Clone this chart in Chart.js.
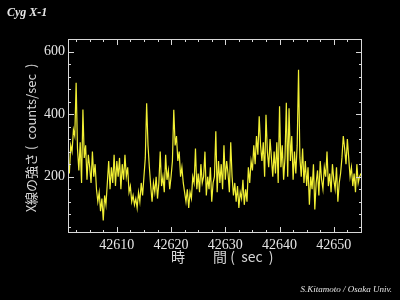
<!DOCTYPE html>
<html>
<head>
<meta charset="utf-8">
<script src="https://cdn.jsdelivr.net/npm/chart.js@4/dist/chart.umd.min.js"></script>
<style>
  html, body { margin: 0; background: #000; }
  canvas { display: block; }
</style>
</head>
<body>
<canvas id="chart" width="400" height="300"></canvas>
<script>
// Cyg X-1 light curve, one sample every 0.25 sec starting at 42601 sec
const startTime = 42601;
const binSize = 0.25;
const counts = [
  250, 210, 300, 280,   // 42601
  350, 330, 500, 290,   // 42602
  220, 310, 180, 415,   // 42603
  260, 300, 190, 270,   // 42604
  230, 180, 280, 200,   // 42605
  240, 160, 120, 150,   // 42606
  90, 130, 60, 140,     // 42607
  110, 180, 250, 160,   // 42608
  230, 180, 270, 170,   // 42609
  250, 200, 260, 160,   // 42610
  240, 190, 270, 200,   // 42611
  230, 150, 170, 120,   // 42612
  140, 110, 130, 100,   // 42613
  150, 120, 180, 140,   // 42614
  200, 260, 435, 300,   // 42615
  230, 170, 120, 180,   // 42616
  150, 200, 130, 180,   // 42617
  280, 170, 200, 150,   // 42618
  270, 190, 220, 160,   // 42619
  200, 250, 414, 300,   // 42620
  330, 250, 280, 200,   // 42621
  230, 180, 150, 120,   // 42622
  160, 100, 150, 130,   // 42623
  200, 180, 290, 160,   // 42624
  210, 150, 240, 180,   // 42625
  200, 280, 140, 200,   // 42626
  160, 230, 120, 180,   // 42627
  200, 345, 150, 250,   // 42628
  180, 240, 160, 300,   // 42629
  190, 250, 210, 150,   // 42630
  310, 200, 140, 180,   // 42631
  120, 170, 100, 150,   // 42632
  130, 190, 110, 160,   // 42633
  120, 230, 180, 250,   // 42634
  220, 300, 240, 330,   // 42635
  270, 393, 300, 250,   // 42636
  310, 200, 398, 280,   // 42637
  230, 320, 260, 200,   // 42638
  280, 210, 310, 180,   // 42639
  425, 230, 300, 190,   // 42640
  260, 436, 200, 419,   // 42641
  250, 330, 190, 280,   // 42642
  210, 300, 542, 260,   // 42643
  200, 290, 180, 250,   // 42644
  170, 230, 110, 200,   // 42645
  160, 240, 95, 180,    // 42646
  220, 140, 250, 190,   // 42647
  160, 230, 200, 280,   // 42648
  170, 210, 150, 240,   // 42649
  190, 160, 230, 120,   // 42650
  180, 210, 260, 330,   // 42651
  290, 240, 320, 260,   // 42652
  200, 230, 170, 210,   // 42653
  150, 240, 180, 200,   // 42654
  210                   // 42655
];

// tick labels
const xTickValues = [42610, 42620, 42630, 42640, 42650];
const yTickValues = [200, 400, 600];

// axis settings
const xMin = 42601, xMax = 42655.2;
const yMin = 20, yMax = 640;
const xMajor = 10, xMinor = 2.5;
const yMajor = 200, yMinor = 40;

const points = counts.map((c, i) => ({ x: startTime + i * binSize, y: c }));

const textColor = '#e6e6e6';
const frameColor = '#d8d8d8';

// frame with inward ticks on all four sides
const framePlugin = {
  id: 'frame',
  afterDatasetsDraw(chart) {
    const ctx = chart.ctx;
    const a = chart.chartArea;
    const xs = chart.scales.x, ys = chart.scales.y;
    ctx.save();
    ctx.strokeStyle = frameColor;
    ctx.lineWidth = 1;
    ctx.strokeRect(a.left + 0.5, a.top + 0.5, a.right - a.left - 1, a.bottom - a.top - 1);
    ctx.beginPath();
    for (let v = Math.ceil(xMin / xMinor) * xMinor; v <= xMax; v += xMinor) {
      const px = Math.round(xs.getPixelForValue(v)) + 0.5;
      const len = (v % xMajor === 0) ? 6 : 3;
      ctx.moveTo(px, a.bottom); ctx.lineTo(px, a.bottom - len);
      ctx.moveTo(px, a.top); ctx.lineTo(px, a.top + len);
    }
    for (let v = Math.ceil(yMin / yMinor) * yMinor; v <= yMax; v += yMinor) {
      const py = Math.round(ys.getPixelForValue(v)) + 0.5;
      const len = (v % yMajor === 0) ? 6 : 3;
      ctx.moveTo(a.left, py); ctx.lineTo(a.left + len, py);
      ctx.moveTo(a.right, py); ctx.lineTo(a.right - len, py);
    }
    ctx.stroke();
    ctx.restore();
  }
};

// titles and credit
const labelPlugin = {
  id: 'labels',
  afterDraw(chart) {
    const ctx = chart.ctx;
    ctx.save();
    ctx.fillStyle = textColor;
    ctx.textBaseline = 'alphabetic';

    ctx.font = 'italic bold 12px "Liberation Serif"';
    ctx.textAlign = 'left';
    ctx.fillText('Cyg X-1', 7, 16);

    ctx.fillStyle = '#d8d8d8';
    ctx.font = '14px "Noto Sans CJK JP"';
    ctx.textAlign = 'left';
    ctx.textBaseline = 'middle';
    ctx.fillText('時　　間 (  sec  )', 171, 257);

    ctx.save();
    ctx.translate(31, 138);
    ctx.rotate(-Math.PI / 2);
    ctx.textAlign = 'center';
    ctx.font = '13px "Noto Sans CJK JP"';
    ctx.fillText('X線の強さ (  counts/sec  )', 0, 0);
    ctx.restore();

    ctx.fillStyle = textColor;
    ctx.font = 'italic 9px "Liberation Serif"';
    ctx.textAlign = 'right';
    ctx.textBaseline = 'alphabetic';
    ctx.fillText('S.Kitamoto / Osaka Univ.', 392, 292);
    ctx.restore();
  }
};

const ctx = document.getElementById('chart').getContext('2d');
new Chart(ctx, {
  type: 'line',
  data: {
    datasets: [{
      data: points,
      borderColor: '#f2f034',
      borderWidth: 1.2,
      pointRadius: 0,
      tension: 0,
      fill: false
    }]
  },
  options: {
    responsive: false,
    animation: false,
    devicePixelRatio: 1,
    layout: { padding: { left: 0, top: 39, right: 38, bottom: 0 } },
    plugins: { legend: { display: false }, tooltip: { enabled: false } },
    scales: {
      x: {
        type: 'linear',
        min: xMin,
        max: xMax,
        grid: { display: false, drawTicks: false },
        border: { display: false },
        afterBuildTicks: s => { s.ticks = xTickValues.map(v => ({ value: v })); },
        afterFit: s => { s.height = 67; },
        ticks: {
          autoSkip: false,
          padding: 4,
          maxRotation: 0,
          color: textColor,
          font: { family: 'Liberation Serif', size: 14 },
          callback: v => String(v)
        }
      },
      y: {
        min: yMin,
        max: yMax,
        grid: { display: false, drawTicks: false },
        border: { display: false },
        afterBuildTicks: s => { s.ticks = yTickValues.map(v => ({ value: v })); },
        afterFit: s => { s.width = 68; },
        ticks: {
          autoSkip: false,
          padding: 3,
          color: textColor,
          font: { family: 'Liberation Serif', size: 14 },
          callback: v => String(v)
        }
      }
    }
  },
  plugins: [framePlugin, labelPlugin]
});
</script>
</body>
</html>
